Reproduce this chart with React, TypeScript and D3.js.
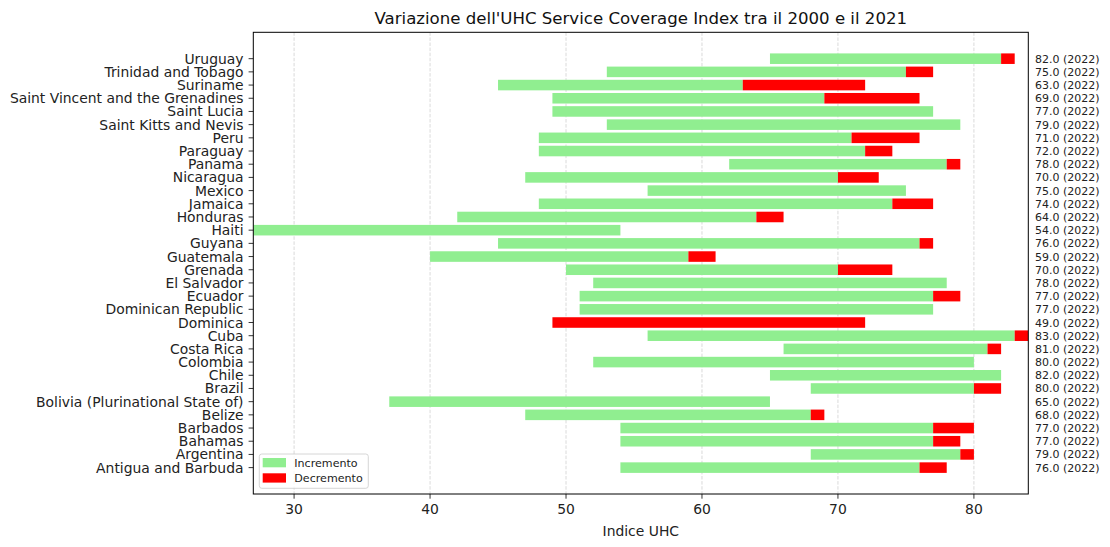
import React, { useEffect, useRef } from "react";
import * as d3 from "d3";

// Countries from bottom (index 0) to top
const countries = [
  "Antigua and Barbuda",
  "Argentina",
  "Bahamas",
  "Barbados",
  "Belize",
  "Bolivia (Plurinational State of)",
  "Brazil",
  "Chile",
  "Colombia",
  "Costa Rica",
  "Cuba",
  "Dominica",
  "Dominican Republic",
  "Ecuador",
  "El Salvador",
  "Grenada",
  "Guatemala",
  "Guyana",
  "Haiti",
  "Honduras",
  "Jamaica",
  "Mexico",
  "Nicaragua",
  "Panama",
  "Paraguay",
  "Peru",
  "Saint Kitts and Nevis",
  "Saint Lucia",
  "Saint Vincent and the Grenadines",
  "Suriname",
  "Trinidad and Tobago",
  "Uruguay",
];

// Index in 2000
const startValues = [
  54, 68, 54, 54, 47, 37, 68, 65, 52, 66, 56, 49, 51, 51, 52, 50, 40, 45, 27, 42,
  48, 56, 47, 62, 48, 48, 53, 49, 49, 45, 53, 65,
];

// Latest value (2022)
const finalValues = [
  76, 79, 77, 77, 68, 65, 80, 82, 80, 81, 83, 49, 77, 77, 78, 70, 59, 76, 54, 64,
  74, 75, 70, 78, 72, 71, 79, 77, 69, 63, 75, 82,
];

// Peak value reached before the decrease
const peakValues = [
  78, 80, 79, 80, 69, 65, 82, 82, 80, 82, 84, 72, 77, 79, 78, 74, 61, 77, 54, 66,
  77, 75, 73, 79, 74, 76, 79, 77, 76, 72, 77, 83,
];

const xTicks = [30, 40, 50, 60, 70, 80];
const finalYear = "2022";

const WIDTH = 1110;
const HEIGHT = 547;

const App: React.FC = () => {
  const svgRef = useRef<SVGSVGElement>(null);

  useEffect(() => {
    document.body.style.margin = "0";
    if (!svgRef.current) return;

    const marginLeft = 253.3;
    const marginRight = 1028.3;
    const marginTop = 32.3;
    const marginBottom = 494;
    const font = "'DejaVu Sans', sans-serif";

    const svg = d3.select(svgRef.current);
    svg.selectAll("*").remove();

    const x = d3.scaleLinear().domain([27, 84]).range([marginLeft, marginRight]);
    const y = d3.scaleLinear().domain([-2, 33]).range([marginBottom, marginTop]);
    const barH = y(0) - y(0.8);

    const rows = countries.map((name, i) => ({
      name,
      i,
      start: startValues[i],
      final: finalValues[i],
      peak: peakValues[i],
    }));

    svg
      .append("defs")
      .append("clipPath")
      .attr("id", "plot-clip")
      .append("rect")
      .attr("x", marginLeft)
      .attr("y", marginTop)
      .attr("width", marginRight - marginLeft)
      .attr("height", marginBottom - marginTop);

    // Grid
    svg
      .append("g")
      .selectAll("line")
      .data(xTicks)
      .join("line")
      .attr("x1", (d) => x(d))
      .attr("x2", (d) => x(d))
      .attr("y1", marginTop)
      .attr("y2", marginBottom)
      .attr("stroke", "#b0b0b0")
      .attr("stroke-opacity", 0.6)
      .attr("stroke-width", 0.8)
      .attr("stroke-dasharray", "3.5,1.6");

    const plot = svg.append("g").attr("clip-path", "url(#plot-clip)");

    // Green bars: start -> final
    plot
      .selectAll("rect.inc")
      .data(rows)
      .join("rect")
      .attr("class", "inc")
      .attr("x", (d) => x(Math.min(d.start, d.final)))
      .attr("width", (d) => Math.abs(x(d.final) - x(d.start)))
      .attr("y", (d) => y(d.i) - barH / 2)
      .attr("height", barH)
      .attr("fill", "#90ee90");

    // Red bars: final -> peak
    plot
      .selectAll("rect.dec")
      .data(rows.filter((d) => d.peak > d.final))
      .join("rect")
      .attr("class", "dec")
      .attr("x", (d) => x(d.final))
      .attr("width", (d) => x(d.peak) - x(d.final))
      .attr("y", (d) => y(d.i) - barH / 2)
      .attr("height", barH)
      .attr("fill", "#ff0000");

    // Frame
    svg
      .append("rect")
      .attr("x", marginLeft)
      .attr("y", marginTop)
      .attr("width", marginRight - marginLeft)
      .attr("height", marginBottom - marginTop)
      .attr("fill", "none")
      .attr("stroke", "black")
      .attr("stroke-width", 1);

    // X axis
    const xAxis = svg.append("g").attr("font-family", font).attr("font-size", 13.9);
    xAxis
      .selectAll("line")
      .data(xTicks)
      .join("line")
      .attr("x1", (d) => x(d))
      .attr("x2", (d) => x(d))
      .attr("y1", marginBottom)
      .attr("y2", marginBottom + 4.7)
      .attr("stroke", "black")
      .attr("stroke-width", 0.8);
    xAxis
      .selectAll("text")
      .data(xTicks)
      .join("text")
      .attr("x", (d) => x(d))
      .attr("y", marginBottom + 20)
      .attr("text-anchor", "middle")
      .attr("fill", "#222")
      .text((d) => d);

    svg
      .append("text")
      .attr("x", (marginLeft + marginRight) / 2)
      .attr("y", 535.5)
      .attr("text-anchor", "middle")
      .attr("font-family", font)
      .attr("font-size", 13.9)
      .attr("fill", "#222")
      .text("Indice UHC");

    // Y axis
    const yAxis = svg.append("g").attr("font-family", font).attr("font-size", 13.9);
    yAxis
      .selectAll("line")
      .data(rows)
      .join("line")
      .attr("x1", marginLeft - 4.7)
      .attr("x2", marginLeft)
      .attr("y1", (d) => y(d.i))
      .attr("y2", (d) => y(d.i))
      .attr("stroke", "black")
      .attr("stroke-width", 0.8);
    yAxis
      .selectAll("text")
      .data(rows)
      .join("text")
      .attr("x", marginLeft - 9.8)
      .attr("y", (d) => y(d.i) + 5)
      .attr("text-anchor", "end")
      .attr("fill", "#222")
      .text((d) => d.name);

    // Right-side value labels
    svg
      .append("g")
      .attr("font-family", font)
      .attr("font-size", 11)
      .selectAll("text")
      .data(rows)
      .join("text")
      .attr("x", x(84.5))
      .attr("y", (d) => y(d.i) + 4)
      .attr("fill", "#222")
      .text((d) => `${d.final.toFixed(1)} (${finalYear})`);

    // Title
    svg
      .append("text")
      .attr("x", (marginLeft + marginRight) / 2)
      .attr("y", 24.3)
      .attr("text-anchor", "middle")
      .attr("font-family", font)
      .attr("font-size", 16.6)
      .attr("fill", "#111")
      .text("Variazione dell'UHC Service Coverage Index tra il 2000 e il 2021");

    // Legend
    const legend = svg.append("g").attr("font-family", font).attr("font-size", 11.1);
    legend
      .append("rect")
      .attr("x", 259.3)
      .attr("y", 454)
      .attr("width", 109)
      .attr("height", 34.3)
      .attr("rx", 2.5)
      .attr("fill", "white")
      .attr("fill-opacity", 0.8)
      .attr("stroke", "#cccccc")
      .attr("stroke-width", 0.8);
    const items = [
      { label: "Incremento", color: "#90ee90" },
      { label: "Decremento", color: "#ff0000" },
    ];
    const item = legend
      .selectAll("g.item")
      .data(items)
      .join("g")
      .attr("class", "item")
      .attr("transform", (_, i) => `translate(262.7,${458 + i * 15.3})`);
    item
      .append("rect")
      .attr("width", 23.3)
      .attr("height", 9.3)
      .attr("fill", (d) => d.color);
    item
      .append("text")
      .attr("x", 31.6)
      .attr("y", 8.6)
      .attr("fill", "#222")
      .text((d) => d.label);
  }, []);

  return (
    <svg
      ref={svgRef}
      width={WIDTH}
      height={HEIGHT}
      style={{ display: "block", background: "white" }}
    />
  );
};

export default App;
